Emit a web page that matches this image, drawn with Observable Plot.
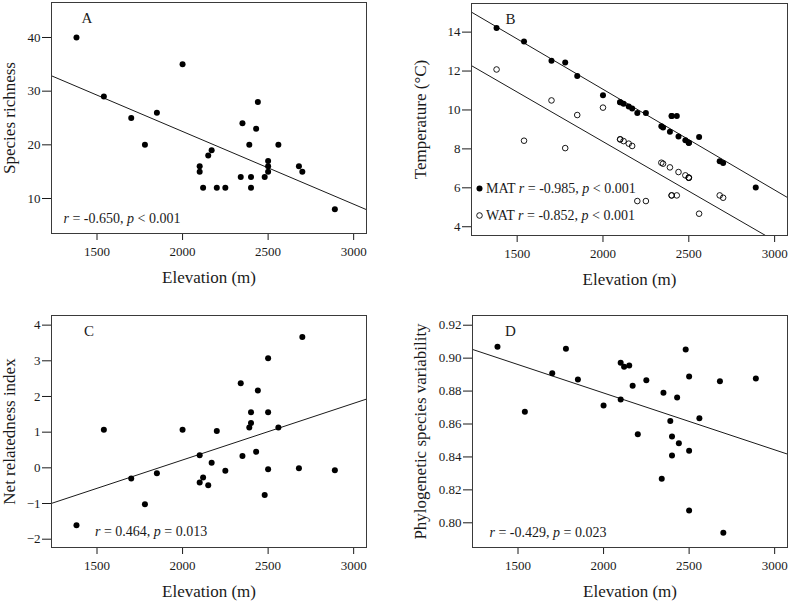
<!DOCTYPE html>
<html>
<head>
<meta charset="utf-8">
<script src="https://cdn.jsdelivr.net/npm/d3@7"></script>
<script src="https://cdn.jsdelivr.net/npm/@observablehq/plot@0.6"></script>
<style>
  body { margin: 0; background: #fff; }
  #wrap { position: relative; width: 789px; height: 602px; background: #fff; overflow: hidden; }
  .panel { position: absolute; }
  .panel text { font-family: 'Liberation Serif', 'Times New Roman', serif; }
</style>
</head>
<body>
<div id="wrap"></div>
<script>
// ---- data ----
const xDomain = [1234, 3075];
const xTicks = [1500, 2000, 2500, 3000];

const elevation = [1380, 1540, 1700, 1780, 1850, 2000, 2100, 2100, 2120, 2150, 2170, 2200, 2250, 2340,
                   2350, 2390, 2400, 2400, 2430, 2440, 2480, 2500, 2500, 2500, 2560, 2680, 2700, 2890];

const richness = [40, 29, 25, 20, 26, 35, 16, 15, 12, 18, 19, 12, 12, 14,
                  24, 20, 14, 12, 23, 28, 14, 17, 16, 15, 20, 16, 15, 8];

const mat = [14.21, 13.52, 12.53, 12.44, 11.74, 10.76, 10.40, 10.40, 10.32, 10.18, 10.08, 9.84, 9.84, 9.16,
             9.10, 8.88, 9.69, 9.69, 9.69, 8.64, 8.44, 8.32, 8.32, 8.32, 8.61, 7.36, 7.28, 6.01];

const wat = [12.08, 8.42, 10.49, 8.04, 9.74, 10.12, 8.49, 8.49, 8.40, 8.27, 8.15, 5.32, 5.32, 7.29,
             7.24, 7.05, 5.61, 5.61, 5.61, 6.81, 6.64, 6.52, 6.52, 6.52, 4.67, 5.61, 5.49, null];

const nri = [-1.61, 1.07, -0.30, -1.02, -0.15, 1.07, 0.35, -0.41, -0.27, -0.49, 0.14, 1.03, -0.08, 2.37,
             0.33, 1.13, 1.56, 1.26, 0.45, 2.17, -0.76, 3.07, 1.56, -0.04, 1.13, -0.01, 3.67, -0.07];

const psv = [0.9069, 0.8674, 0.8909, 0.9057, 0.8870, 0.8712, 0.8972, 0.8749, 0.8947, 0.8955, 0.8832, 0.8538, 0.8866, 0.8267,
             0.8790, 0.8619, 0.8524, 0.8409, 0.8761, 0.8483, 0.9052, 0.8888, 0.8437, 0.8075, 0.8635, 0.8860, 0.7939, 0.8876];

// regression lines (intercept a, slope b)
const fitRichness = {a: 49.58, b: -0.013548};
const fitMAT = {a: 21.41, b: -0.005174};
const fitWAT = {a: 18.56, b: -0.005093};
const fitNRI = {a: -2.956, b: 0.001588};
const fitPSV = {a: 0.9479, b: -0.00003453};

const yTicksA = [10, 20, 30, 40];
const yTicksB = [4, 6, 8, 10, 12, 14];
const yTicksC = [-2, -1, 0, 1, 2, 3, 4];
const yTicksD = [0.80, 0.82, 0.84, 0.86, 0.88, 0.90, 0.92];

const statA = "r = -0.650, p < 0.001";
const statMAT = "MAT r = -0.985, p < 0.001";
const statWAT = "WAT r = -0.852, p < 0.001";
const statC = "r = 0.464, p = 0.013";
const statD = "r = -0.429, p = 0.023";

// ---- build ----
const rows = elevation.map((e, i) => ({e, richness: richness[i], mat: mat[i], wat: wat[i], nri: nri[i], psv: psv[i]}));
const INK = "#1a1a1a";
const FONT = "'Liberation Serif', 'Times New Roman', serif";
const intFmt = d => (d < 0 ? "\u2212" + Math.abs(d) : String(d));

function italicize(svg) {
  d3.select(svg).selectAll("text").each(function () {
    const s = this.textContent;
    if (!/\br = /.test(s)) return;
    const parts = s.split(/(\br\b|\bp\b)/);
    this.textContent = "";
    for (const p of parts) {
      if (p === "") continue;
      const t = document.createElementNS("http://www.w3.org/2000/svg", "tspan");
      t.textContent = p;
      if (p === "r" || p === "p") t.setAttribute("font-style", "italic");
      this.appendChild(t);
    }
  });
}

function makePanel(cfg) {
  const svg = Plot.plot({
    width: cfg.width, height: cfg.height,
    marginLeft: cfg.ml, marginRight: cfg.mr, marginTop: cfg.mt, marginBottom: cfg.mb,
    style: {fontFamily: FONT, color: INK, background: "white"},
    x: {domain: xDomain},
    y: {domain: cfg.yDomain},
    marks: [
      Plot.axisX({ticks: xTicks, tickSize: 7, tickPadding: 6, fontSize: 13, fontFamily: FONT, label: null, tickFormat: intFmt}),
      Plot.axisY({ticks: cfg.yTicks, tickSize: 9, tickPadding: 2, fontSize: 13, fontFamily: FONT, label: null, tickFormat: cfg.yFmt}),
      ...cfg.fits.map(f => Plot.line(xDomain, {x: d => d, y: d => f.a + f.b * d, stroke: INK, strokeWidth: 1, clip: true})),
      ...cfg.marks,
      Plot.frame({stroke: "#3a3a3a", strokeWidth: 1}),
      Plot.text([cfg.letter], {text: d => d, frameAnchor: "top-left", dx: cfg.letterDx, dy: 16, lineAnchor: "middle", fontSize: 15, fontFamily: FONT, fill: INK}),
      Plot.text(["Elevation (m)"], {text: d => d, frameAnchor: "bottom", dy: 44, lineAnchor: "middle", fontSize: 17, fontFamily: FONT, fill: INK}),
      Plot.text([cfg.ylabel], {text: d => d, frameAnchor: "left", dx: cfg.ylabelDx, rotate: -90, textAnchor: "middle", lineAnchor: "middle", fontSize: 17, fontFamily: FONT, fill: INK})
    ]
  });
  italicize(svg);
  svg.classList.add("panel");
  svg.style.left = cfg.left + "px";
  svg.style.top = cfg.top + "px";
  document.getElementById("wrap").appendChild(svg);
}

const filled = (y) => Plot.dot(rows, {x: "e", y, r: 3, fill: "black", stroke: "none"});
const stat = (s, dx, dy) => Plot.text([s], {text: d => d, frameAnchor: "bottom-left", dx, dy, lineAnchor: "middle", fontSize: 14, fontFamily: FONT, fill: INK});

makePanel({
  left: 0, top: 0, width: 395, height: 300, ml: 51, mr: 29, mt: 2, mb: 67,
  yDomain: [3.48, 46.52], yTicks: yTicksA, yFmt: intFmt,
  ylabel: "Species richness", ylabelDx: -42, letter: "A", letterDx: 30,
  fits: [fitRichness],
  marks: [filled("richness"), stat(statA, 12, -15)]
});

makePanel({
  left: 395, top: 0, width: 394, height: 300, ml: 76, mr: 2, mt: 3, mb: 65,
  yDomain: [3.55, 15.47], yTicks: yTicksB, yFmt: intFmt,
  ylabel: "Temperature (°C)", ylabelDx: -51, letter: "B", letterDx: 34,
  fits: [fitMAT, fitWAT],
  marks: [
    filled("mat"),
    Plot.dot(rows.filter(d => d.wat != null), {x: "e", y: "wat", r: 2.8, fill: "none", stroke: "black", strokeWidth: 0.9}),
    Plot.dot([statMAT], {frameAnchor: "bottom-left", dx: 8, dy: -47, r: 3, fill: "black", stroke: "none"}),
    Plot.dot([statWAT], {frameAnchor: "bottom-left", dx: 8, dy: -20, r: 2.8, fill: "none", stroke: "black", strokeWidth: 0.9}),
    stat(statMAT, 14.5, -47),
    stat(statWAT, 14.5, -20)
  ]
});

makePanel({
  left: 0, top: 300, width: 395, height: 302, ml: 51, mr: 29, mt: 15, mb: 55,
  yDomain: [-2.233, 4.27], yTicks: yTicksC, yFmt: intFmt,
  ylabel: "Net relatedness index", ylabelDx: -41.5, letter: "C", letterDx: 32.5,
  fits: [fitNRI],
  marks: [filled("nri"), stat(statC, 43.5, -15.5)]
});

makePanel({
  left: 395, top: 300, width: 394, height: 302, ml: 77, mr: 2, mt: 15, mb: 55,
  yDomain: [0.785, 0.9259], yTicks: yTicksD, yFmt: d3.format(".2f"),
  ylabel: "Phylogenetic species variability", ylabelDx: -51.5, letter: "D", letterDx: 32.5,
  fits: [fitPSV],
  marks: [filled("psv"), stat(statD, 17, -15)]
});
</script>
</body>
</html>
